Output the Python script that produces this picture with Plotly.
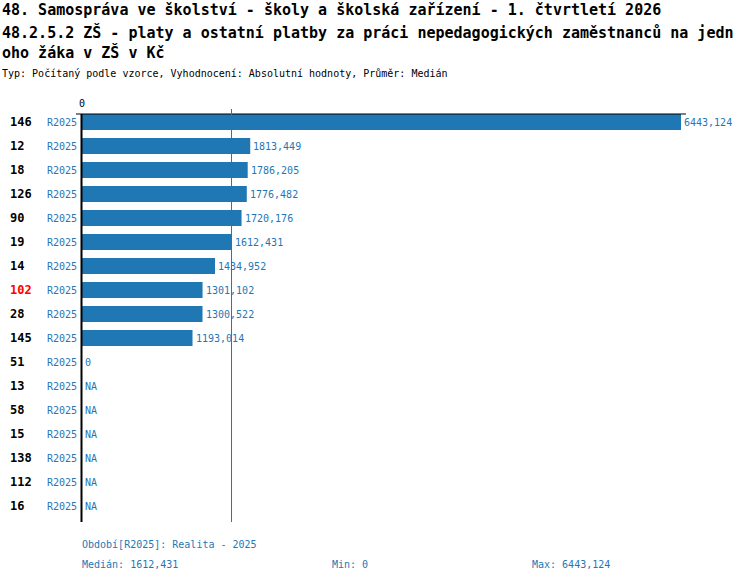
import plotly.graph_objects as go

# ── DATA ────────────────────────────────────────────────────
ids     = ["146", "12", "18", "126", "90", "19", "14", "102", "28", "145",
           "51", "13", "58", "15", "138", "112", "16"]
periods = ["R2025"] * len(ids)
values  = [6443.124, 1813.449, 1786.205, 1776.482, 1720.176, 1612.431,
           1434.952, 1301.102, 1300.522, 1193.014, 0,
           None, None, None, None, None, None]
highlight_id = "102"
median_val   = 1612.431
min_val      = 0
max_val      = 6443.124

title_lines = [
    "48. Samospráva ve školství - školy a školská zařízení - 1. čtvrtletí 2026",
    "48.2.5.2 ZŠ - platy a ostatní platby za práci nepedagogických zaměstnanců na jedn",
    "oho žáka v ZŠ v Kč",
]
subtitle = "Typ: Počítaný podle vzorce, Vyhodnocení: Absolutní hodnoty, Průměr: Medián"
period_note = "Období[R2025]: Realita - 2025"

BLUE = "#1f77b4"
MONO = "DejaVu Sans Mono"
W, H = 750, 582

# ── PIXEL HELPERS (window pixels -> figure coords) ──────────
X0_PX, XMAX_PX = 81.5, 681          # pixel of 0 and of the max bar end
ROW0_PX, ROW_STEP = 122, 24         # centre of first row, row pitch
k = max_val / (XMAX_PX - X0_PX)     # data units per pixel

def px_x(p):  return (p - X0_PX) * k
def px_y(p):  return (p - ROW0_PX) / ROW_STEP
def pap_x(p): return p / W
def pap_y(p): return 1 - p / H

def fmt(v):
    if v is None:
        return "NA"
    if v == 0:
        return "0"
    return f"{v:.3f}".replace(".", ",")

rows = list(range(len(ids)))

# ── FIGURE ──────────────────────────────────────────────────
fig = go.Figure()
fig.add_trace(go.Bar(
    x=values, y=rows, orientation="h",
    width=16 / ROW_STEP,
    marker=dict(color=BLUE, line=dict(width=0)),
    hoverinfo="skip"
))

# axis lines
fig.add_shape(type="line", x0=px_x(76), x1=px_x(686), y0=px_y(114), y1=px_y(114),
              line=dict(color="black", width=1))
fig.add_shape(type="line", x0=0, x1=0, y0=px_y(114), y1=px_y(522),
              line=dict(color="black", width=2))
fig.add_shape(type="line", x0=median_val, x1=median_val, y0=px_y(109), y1=px_y(522),
              line=dict(color=BLUE, width=1))

ann = []
ann.append(dict(x=0, xref="x", y=pap_y(103), yref="paper", text="0",
                showarrow=False, font=dict(family=MONO, size=10, color="black"),
                xanchor="center", yanchor="middle"))

# value labels and row labels
for i, (rid, per, v) in enumerate(zip(ids, periods, values)):
    ann.append(dict(x=v if v is not None else 0, xref="x", y=i, yref="y",
                    text=fmt(v), showarrow=False, xshift=1,
                    font=dict(family=MONO, size=10, color=BLUE),
                    xanchor="left", yanchor="middle"))
    ann.append(dict(x=pap_x(8), xref="paper", y=i, yref="y",
                    text=f"<b>{rid}</b>", showarrow=False,
                    font=dict(family=MONO, size=12,
                              color="red" if rid == highlight_id else "black"),
                    xanchor="left", yanchor="middle"))
    ann.append(dict(x=pap_x(79), xref="paper", y=i, yref="y",
                    text=per, showarrow=False,
                    font=dict(family=MONO, size=10, color=BLUE),
                    xanchor="right", yanchor="middle"))

# titles
for t, yp in zip(title_lines, [10, 32, 52]):
    ann.append(dict(x=pap_x(0), xref="paper", y=pap_y(yp), yref="paper",
                    text=f"<b>{t}</b>", showarrow=False,
                    font=dict(family=MONO, size=15, color="black"),
                    xanchor="left", yanchor="middle"))
ann.append(dict(x=pap_x(0), xref="paper", y=pap_y(73), yref="paper",
                text=subtitle, showarrow=False,
                font=dict(family=MONO, size=10, color="black"),
                xanchor="left", yanchor="middle"))

# footer
footer = [
    (80, 544, period_note),
    (80, 564, f"Medián: {fmt(median_val)}"),
    (330, 564, f"Min: {fmt(min_val)}"),
    (530, 564, f"Max: {fmt(max_val)}"),
]
for xp, yp, t in footer:
    ann.append(dict(x=pap_x(xp), xref="paper", y=pap_y(yp), yref="paper",
                    text=t, showarrow=False,
                    font=dict(family=MONO, size=10, color=BLUE),
                    xanchor="left", yanchor="middle"))

fig.update_layout(
    width=W, height=H,
    margin=dict(l=0, r=0, t=0, b=0),
    paper_bgcolor="white", plot_bgcolor="white",
    showlegend=False,
    xaxis=dict(range=[px_x(0), px_x(W)], visible=False, fixedrange=True),
    yaxis=dict(range=[px_y(H), px_y(0)], visible=False, fixedrange=True),
    annotations=ann
)

# drop the default 8px body margin so the figure sits at the window corner
fig.write_html("out.html", config={"displayModeBar": False},
               post_script="document.body.style.margin='0';")
